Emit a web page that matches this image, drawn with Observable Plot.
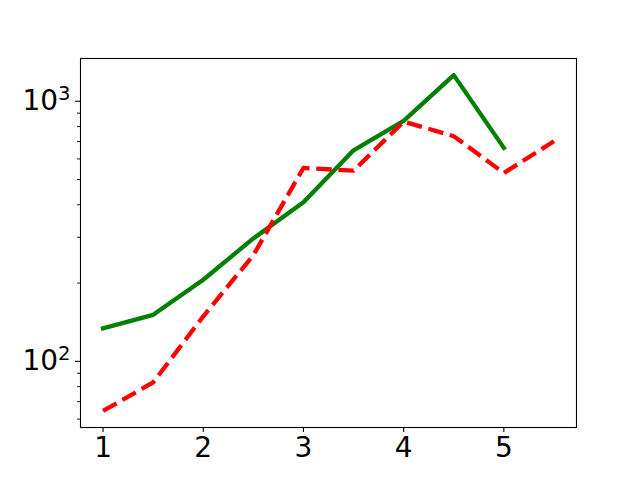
<!DOCTYPE html>
<html>
<head>
<meta charset="utf-8">
<script src="https://cdn.jsdelivr.net/npm/d3@7"></script>
<script src="https://cdn.jsdelivr.net/npm/@observablehq/plot@0.6"></script>
<style>
  html, body { margin: 0; padding: 0; background: white; }
</style>
</head>
<body>
<div id="chart"></div>
<script>
// Data
const greenX = [1, 1.5, 2, 2.5, 3, 3.5, 4, 4.5, 5];
const greenY = [134, 151, 206, 297, 409, 648, 840, 1260, 662];
const redX = [1, 1.5, 2, 2.5, 3, 3.5, 4, 4.5, 5, 5.5];
const redY = [64.5, 83, 149, 256, 554, 541, 835, 734, 530, 702];
const xTicks = [1, 2, 3, 4, 5];
const yMajor = [100, 1000];
const yMajorBase = "10";
const yMajorExp = ["2", "3"];
const yMinor = [60, 70, 80, 90, 200, 300, 400, 500, 600, 700, 800, 900];

const green = greenX.map((x, i) => ({x, y: greenY[i]}));
const red = redX.map((x, i) => ({x, y: redY[i]}));

const chart = Plot.plot({
  width: 640,
  height: 480,
  marginLeft: 80,
  marginRight: 64,
  marginTop: 58,
  marginBottom: 53,
  style: {fontFamily: "DejaVu Sans", fontSize: "28px", background: "white", color: "black"},
  x: {domain: [0.775, 5.725], label: null},
  y: {type: "log", domain: [55.7, 1460], label: null},
  marks: [
    Plot.line(green, {x: "x", y: "y", stroke: "#008000", strokeWidth: 4.3, strokeLinecap: "square", strokeLinejoin: "round"}),
    Plot.line(red, {x: "x", y: "y", stroke: "#ff0000", strokeWidth: 4.3, strokeDasharray: "15.5,6.7", strokeLinecap: "butt", strokeLinejoin: "round"}),
    Plot.frame({stroke: "black", strokeWidth: 1.1}),
    Plot.axisX({ticks: xTicks, tickSize: 5, tickPadding: 5, tickFormat: d => String(d), fontSize: 28, label: null, strokeWidth: 1.1}),
    Plot.axisY({ticks: yMajor, tickSize: 5, tickPadding: 5, tickFormat: d => yMajorBase + "^" + yMajorExp[yMajor.indexOf(d)], fontSize: 28, label: null, strokeWidth: 1.1}),
    Plot.axisY({ticks: yMinor, tickSize: 3, tickFormat: () => "", label: null, strokeWidth: 0.9})
  ]
});
document.getElementById("chart").appendChild(chart);

// Render the y tick labels as 10 with a real superscript exponent
d3.select(chart).selectAll("text").each(function () {
  const t = d3.select(this);
  const s = t.text();
  if (s.includes("^")) {
    const [base, exp] = s.split("^");
    t.text(null);
    t.append("tspan").text(base);
    t.append("tspan").attr("font-size", "19.6px").attr("dy", "-10").text(exp);
  }
});
</script>
</body>
</html>
